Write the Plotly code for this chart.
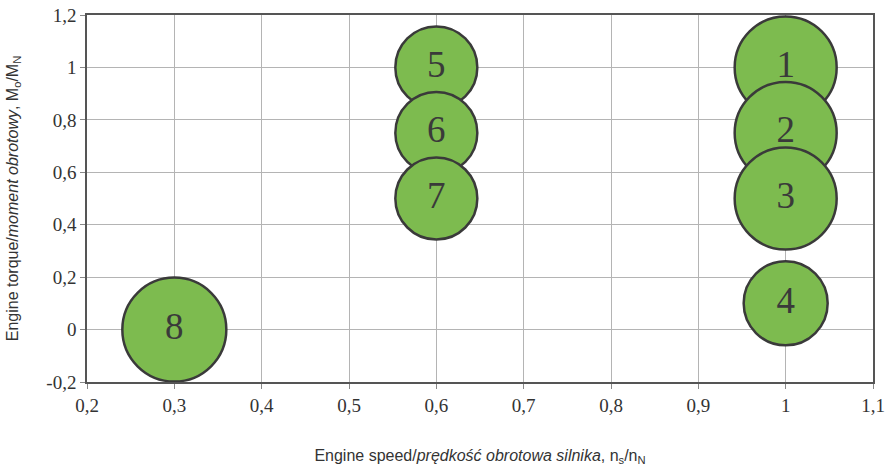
import plotly.graph_objects as go

labels = ["1", "2", "3", "4", "5", "6", "7", "8"]
speed = [1.0, 1.0, 1.0, 1.0, 0.6, 0.6, 0.6, 0.3]
torque = [1.0, 0.75, 0.5, 0.1, 1.0, 0.75, 0.5, 0.0]
bubble_size = [102, 102, 102, 84, 82, 82, 82, 104]

x_ticks = [0.2, 0.3, 0.4, 0.5, 0.6, 0.7, 0.8, 0.9, 1.0, 1.1]
x_tick_text = ["0,2", "0,3", "0,4", "0,5", "0,6", "0,7", "0,8", "0,9", "1", "1,1"]
y_ticks = [-0.2, 0.0, 0.2, 0.4, 0.6, 0.8, 1.0, 1.2]
y_tick_text = ["-0,2", "0", "0,2", "0,4", "0,6", "0,8", "1", "1,2"]

SERIF = "Liberation Serif"
SANS = "Liberation Sans"

fig = go.Figure()
fig.add_trace(go.Scatter(
    x=speed, y=torque, text=labels,
    mode="markers+text",
    textposition="middle center",
    textfont=dict(family=SERIF, size=37, color="#3a3a3a"),
    marker=dict(size=bubble_size, sizemode="diameter", color="#7dbb4f",
                opacity=1, line=dict(color="#3a3a3a", width=2.5)),
    cliponaxis=False,
    hoverinfo="skip",
    showlegend=False,
))

axis_common = dict(
    showgrid=True, gridcolor="#b4b4b4", gridwidth=1,
    showline=True, linecolor="#555555", linewidth=1.5, mirror=True,
    ticks="outside", ticklen=5, tickcolor="#888888",
    zeroline=False,
    automargin=False,
)

fig.update_layout(
    width=886, height=466,
    font=dict(family=SERIF, size=19, color="#333333"),
    margin=dict(l=87, r=13, t=15, b=84, autoexpand=False),
    paper_bgcolor="white", plot_bgcolor="white",
    xaxis=dict(range=[0.2, 1.1], tickvals=x_ticks, ticktext=x_tick_text,
               tickfont=dict(family=SERIF, size=19, color="#333333"),
               title=dict(text="Engine speed/<i>prędkość obrotowa silnika</i>, n<sub>s</sub>/n<sub>N</sub>",
                          font=dict(family=SANS, size=16, color="#333333"),
                          standoff=36),
               **axis_common),
    yaxis=dict(range=[-0.2, 1.2], tickvals=y_ticks, ticktext=y_tick_text,
               tickfont=dict(family=SERIF, size=19, color="#333333"),
               title=dict(text="Engine torque/<i>moment obrotowy</i>, M<sub>o</sub>/M<sub>N</sub>",
                          font=dict(family=SANS, size=16, color="#333333"),
                          standoff=24),
               **axis_common),
)

fig.write_html("out.html")
